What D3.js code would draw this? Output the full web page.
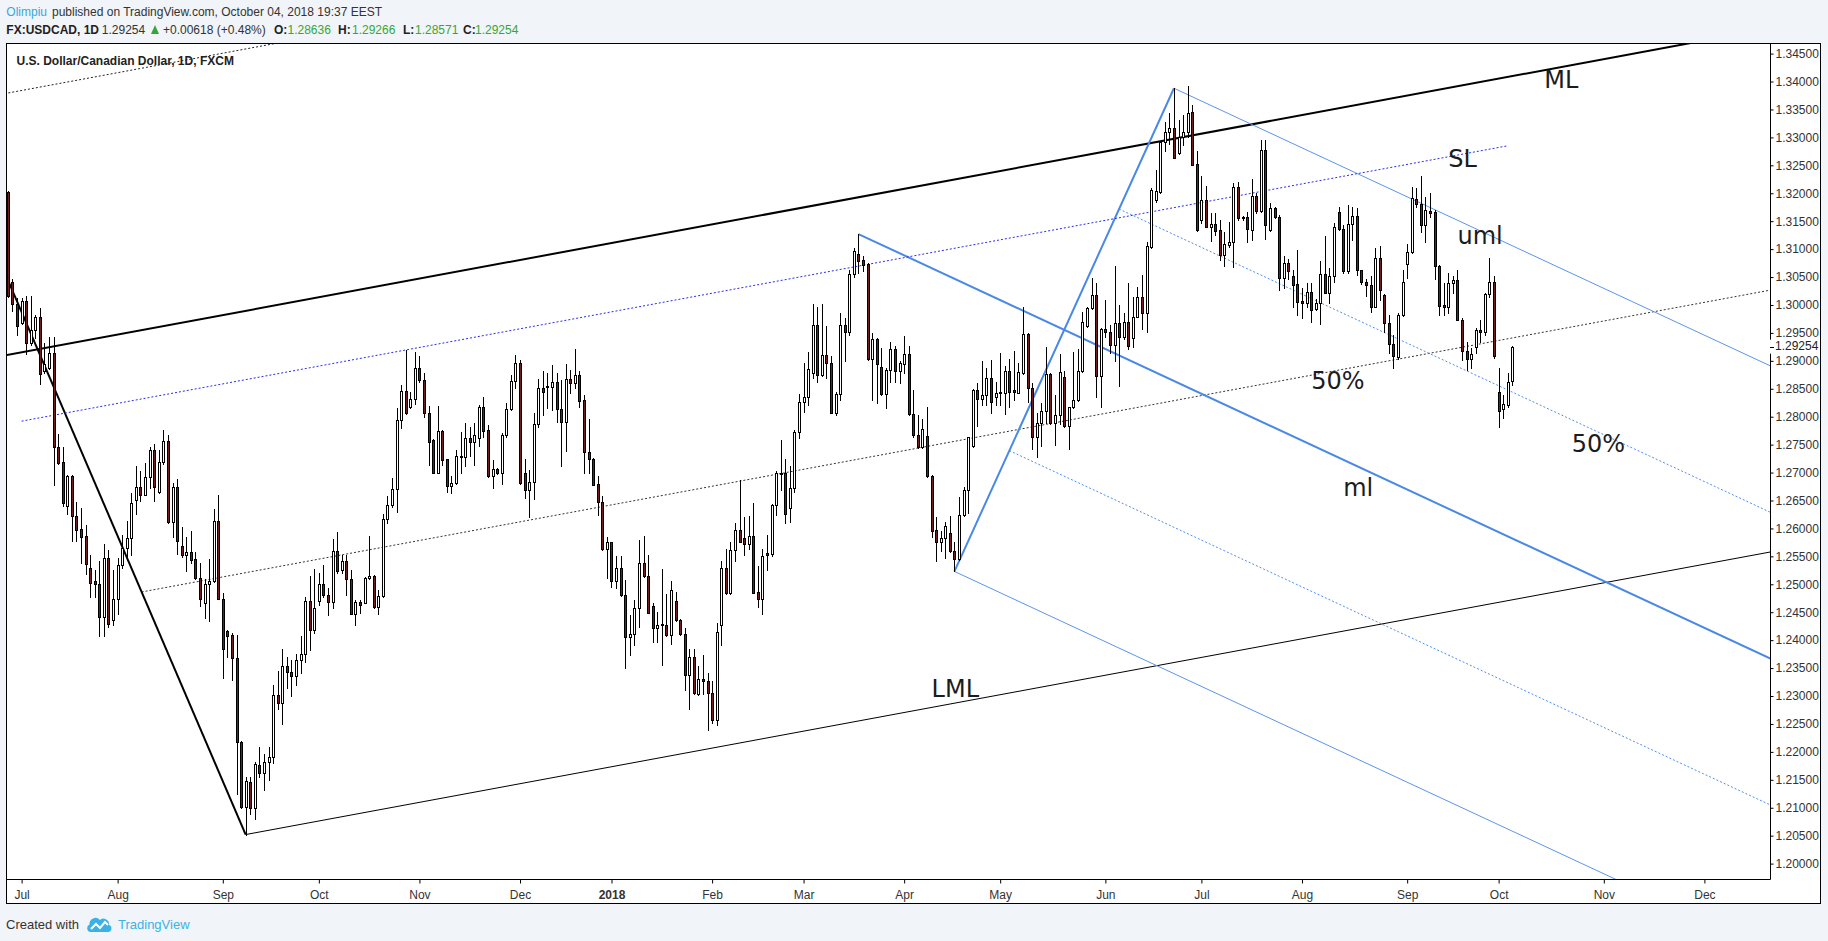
<!DOCTYPE html>
<html>
<head>
<meta charset="utf-8">
<script src="https://d3js.org/d3.v7.min.js"></script>
<style>
  html, body { margin: 0; padding: 0; background: #f1f4f8; }
  svg { display: block; }
</style>
</head>
<body>
<script>
// daily candles, FXCM USDCAD: date, open, high, low, close
var candles = [
  ["2017-06-28",1.3202,1.3204,1.3014,1.3016],["2017-06-29",1.3041,1.3047,1.2989,1.3001],["2017-06-30",1.3002,1.3012,1.2947,1.2963],
  ["2017-07-03",1.2968,1.3012,1.2966,1.3007],["2017-07-04",1.3007,1.3016,1.2913,1.2932],["2017-07-05",1.2932,1.3016,1.2928,1.2956],
  ["2017-07-06",1.2956,1.2982,1.2940,1.2978],["2017-07-07",1.2978,1.2995,1.2859,1.2876],["2017-07-10",1.2881,1.2932,1.2878,1.2894],
  ["2017-07-11",1.2888,1.2943,1.2886,1.2914],["2017-07-12",1.2914,1.2943,1.2678,1.2745],["2017-07-13",1.2746,1.2769,1.2716,1.2718],
  ["2017-07-14",1.2719,1.2745,1.2641,1.2645],["2017-07-17",1.2641,1.2696,1.2626,1.2694],["2017-07-18",1.2694,1.2696,1.2578,1.2622],
  ["2017-07-19",1.2622,1.2648,1.2578,1.2598],["2017-07-20",1.2599,1.2637,1.2538,1.2585],["2017-07-21",1.2586,1.2607,1.2519,1.2536],
  ["2017-07-24",1.2530,1.2553,1.2478,1.2503],["2017-07-25",1.2505,1.2526,1.2477,1.2500],["2017-07-26",1.2501,1.2542,1.2408,1.2441],
  ["2017-07-27",1.2441,1.2572,1.2408,1.2547],["2017-07-28",1.2547,1.2561,1.2423,1.2429],["2017-07-31",1.2436,1.2525,1.2427,1.2473],
  ["2017-08-01",1.2473,1.2547,1.2446,1.2534],["2017-08-02",1.2534,1.2588,1.2529,1.2565],["2017-08-03",1.2565,1.2614,1.2544,1.2582],
  ["2017-08-04",1.2582,1.2664,1.2553,1.2645],["2017-08-07",1.2650,1.2712,1.2626,1.2675],["2017-08-08",1.2675,1.2702,1.2649,1.2660],
  ["2017-08-09",1.2660,1.2718,1.2659,1.2692],["2017-08-10",1.2692,1.2745,1.2672,1.2741],["2017-08-11",1.2741,1.2752,1.2649,1.2675],
  ["2017-08-14",1.2666,1.2741,1.2664,1.2719],["2017-08-15",1.2719,1.2777,1.2715,1.2757],["2017-08-16",1.2757,1.2767,1.2610,1.2612],
  ["2017-08-17",1.2612,1.2681,1.2584,1.2675],["2017-08-18",1.2675,1.2689,1.2555,1.2578],["2017-08-21",1.2569,1.2603,1.2549,1.2552],
  ["2017-08-22",1.2552,1.2584,1.2523,1.2557],["2017-08-23",1.2557,1.2595,1.2538,1.2544],["2017-08-24",1.2546,1.2557,1.2509,1.2511],
  ["2017-08-25",1.2511,1.2538,1.2461,1.2474],["2017-08-28",1.2467,1.2510,1.2439,1.2501],["2017-08-29",1.2501,1.2546,1.2435,1.2506],
  ["2017-08-30",1.2506,1.2634,1.2504,1.2614],["2017-08-31",1.2614,1.2659,1.2473,1.2474],["2017-09-01",1.2474,1.2484,1.2333,1.2385],
  ["2017-09-04",1.2417,1.2419,1.2370,1.2408],["2017-09-05",1.2409,1.2412,1.2329,1.2368],["2017-09-06",1.2368,1.2409,1.2125,1.2217],
  ["2017-09-07",1.2217,1.2219,1.2100,1.2102],["2017-09-08",1.2102,1.2155,1.2052,1.2148],["2017-09-11",1.2146,1.2155,1.2088,1.2100],
  ["2017-09-12",1.2100,1.2182,1.2079,1.2178],["2017-09-13",1.2177,1.2209,1.2155,1.2163],["2017-09-14",1.2163,1.2196,1.2132,1.2181],
  ["2017-09-15",1.2181,1.2208,1.2150,1.2190],["2017-09-18",1.2190,1.2320,1.2180,1.2301],["2017-09-19",1.2301,1.2345,1.2276,1.2287],
  ["2017-09-20",1.2287,1.2384,1.2250,1.2353],["2017-09-21",1.2353,1.2370,1.2315,1.2343],["2017-09-22",1.2343,1.2365,1.2300,1.2335],
  ["2017-09-25",1.2335,1.2375,1.2320,1.2365],["2017-09-26",1.2365,1.2408,1.2342,1.2375],["2017-09-27",1.2375,1.2478,1.2360,1.2470],
  ["2017-09-28",1.2470,1.2515,1.2383,1.2418],["2017-09-29",1.2418,1.2528,1.2412,1.2457],["2017-10-02",1.2470,1.2520,1.2463,1.2501],
  ["2017-10-03",1.2501,1.2535,1.2478,1.2481],["2017-10-04",1.2481,1.2493,1.2445,1.2468],["2017-10-05",1.2468,1.2581,1.2457,1.2560],
  ["2017-10-06",1.2560,1.2593,1.2520,1.2523],["2017-10-09",1.2525,1.2553,1.2520,1.2541],["2017-10-10",1.2541,1.2553,1.2481,1.2509],
  ["2017-10-11",1.2509,1.2526,1.2446,1.2447],["2017-10-12",1.2447,1.2472,1.2428,1.2468],["2017-10-13",1.2468,1.2472,1.2448,1.2463],
  ["2017-10-16",1.2466,1.2513,1.2466,1.2511],["2017-10-17",1.2511,1.2587,1.2510,1.2515],["2017-10-18",1.2515,1.2516,1.2457,1.2460],
  ["2017-10-19",1.2460,1.2490,1.2447,1.2479],["2017-10-20",1.2479,1.2626,1.2478,1.2616],["2017-10-23",1.2616,1.2658,1.2610,1.2642],
  ["2017-10-24",1.2642,1.2690,1.2639,1.2670],["2017-10-25",1.2670,1.2815,1.2630,1.2794],["2017-10-26",1.2794,1.2857,1.2779,1.2846],
  ["2017-10-27",1.2846,1.2920,1.2805,1.2806],["2017-10-30",1.2817,1.2845,1.2815,1.2831],["2017-10-31",1.2831,1.2915,1.2823,1.2887],
  ["2017-11-01",1.2887,1.2909,1.2863,1.2865],["2017-11-02",1.2865,1.2878,1.2799,1.2807],["2017-11-03",1.2807,1.2819,1.2714,1.2755],
  ["2017-11-06",1.2758,1.2760,1.2699,1.2700],["2017-11-07",1.2700,1.2819,1.2699,1.2775],["2017-11-08",1.2775,1.2776,1.2714,1.2723],
  ["2017-11-09",1.2724,1.2725,1.2666,1.2676],["2017-11-10",1.2676,1.2694,1.2664,1.2681],["2017-11-13",1.2682,1.2741,1.2680,1.2730],
  ["2017-11-14",1.2730,1.2773,1.2699,1.2727],["2017-11-15",1.2727,1.2788,1.2711,1.2761],["2017-11-16",1.2761,1.2781,1.2729,1.2754],
  ["2017-11-17",1.2754,1.2788,1.2714,1.2767],["2017-11-20",1.2761,1.2821,1.2747,1.2818],["2017-11-21",1.2818,1.2836,1.2763,1.2775],
  ["2017-11-22",1.2776,1.2786,1.2692,1.2693],["2017-11-23",1.2693,1.2723,1.2672,1.2706],["2017-11-24",1.2706,1.2708,1.2698,1.2700],
  ["2017-11-27",1.2700,1.2770,1.2680,1.2767],["2017-11-28",1.2767,1.2824,1.2764,1.2813],["2017-11-29",1.2813,1.2875,1.2812,1.2864],
  ["2017-11-30",1.2864,1.2911,1.2851,1.2896],["2017-12-01",1.2896,1.2902,1.2680,1.2681],["2017-12-04",1.2699,1.2724,1.2654,1.2668],
  ["2017-12-05",1.2668,1.2704,1.2621,1.2683],["2017-12-06",1.2683,1.2807,1.2652,1.2787],["2017-12-07",1.2787,1.2867,1.2782,1.2851],
  ["2017-12-08",1.2851,1.2881,1.2803,1.2845],["2017-12-11",1.2853,1.2878,1.2815,1.2855],["2017-12-12",1.2854,1.2893,1.2812,1.2862],
  ["2017-12-13",1.2862,1.2878,1.2791,1.2813],["2017-12-14",1.2813,1.2866,1.2712,1.2791],["2017-12-15",1.2791,1.2894,1.2738,1.2867],
  ["2017-12-18",1.2867,1.2883,1.2842,1.2860],["2017-12-19",1.2860,1.2921,1.2851,1.2875],["2017-12-20",1.2875,1.2881,1.2818,1.2829],
  ["2017-12-21",1.2830,1.2839,1.2699,1.2736],["2017-12-22",1.2737,1.2795,1.2699,1.2724],["2017-12-26",1.2725,1.2726,1.2677,1.2678],
  ["2017-12-27",1.2679,1.2694,1.2624,1.2648],["2017-12-28",1.2648,1.2658,1.2562,1.2563],["2017-12-29",1.2563,1.2584,1.2511,1.2575],
  ["2018-01-02",1.2575,1.2575,1.2496,1.2505],["2018-01-03",1.2505,1.2550,1.2493,1.2530],["2018-01-04",1.2530,1.2551,1.2479,1.2481],
  ["2018-01-05",1.2481,1.2508,1.2350,1.2405],["2018-01-08",1.2406,1.2445,1.2374,1.2411],["2018-01-09",1.2411,1.2472,1.2391,1.2457],
  ["2018-01-10",1.2457,1.2579,1.2423,1.2539],["2018-01-11",1.2539,1.2587,1.2513,1.2514],["2018-01-12",1.2514,1.2553,1.2448,1.2449],
  ["2018-01-15",1.2461,1.2466,1.2397,1.2421],["2018-01-16",1.2421,1.2451,1.2397,1.2428],["2018-01-17",1.2429,1.2527,1.2356,1.2427],
  ["2018-01-18",1.2428,1.2483,1.2408,1.2409],["2018-01-19",1.2409,1.2505,1.2393,1.2490],["2018-01-22",1.2470,1.2487,1.2434,1.2436],
  ["2018-01-23",1.2436,1.2437,1.2409,1.2411],["2018-01-24",1.2411,1.2421,1.2311,1.2338],["2018-01-25",1.2338,1.2385,1.2276,1.2369],
  ["2018-01-26",1.2369,1.2385,1.2304,1.2306],["2018-01-29",1.2304,1.2354,1.2302,1.2330],["2018-01-30",1.2330,1.2374,1.2304,1.2326],
  ["2018-01-31",1.2326,1.2341,1.2240,1.2305],["2018-02-01",1.2305,1.2326,1.2251,1.2257],["2018-02-02",1.2257,1.2430,1.2249,1.2414],
  ["2018-02-05",1.2427,1.2541,1.2391,1.2530],["2018-02-06",1.2530,1.2563,1.2483,1.2484],["2018-02-07",1.2484,1.2575,1.2483,1.2562],
  ["2018-02-08",1.2562,1.2609,1.2542,1.2597],["2018-02-09",1.2597,1.2687,1.2575,1.2576],["2018-02-12",1.2582,1.2621,1.2553,1.2572],
  ["2018-02-13",1.2572,1.2622,1.2563,1.2587],["2018-02-14",1.2587,1.2645,1.2484,1.2485],["2018-02-15",1.2487,1.2533,1.2460,1.2473],
  ["2018-02-16",1.2473,1.2563,1.2447,1.2551],["2018-02-19",1.2556,1.2588,1.2526,1.2553],["2018-02-20",1.2554,1.2644,1.2550,1.2642],
  ["2018-02-21",1.2642,1.2702,1.2624,1.2699],["2018-02-22",1.2699,1.2758,1.2669,1.2698],["2018-02-23",1.2700,1.2724,1.2610,1.2626],
  ["2018-02-26",1.2636,1.2711,1.2612,1.2672],["2018-02-27",1.2672,1.2776,1.2666,1.2772],["2018-02-28",1.2772,1.2840,1.2761,1.2827],
  ["2018-03-01",1.2827,1.2896,1.2809,1.2835],["2018-03-02",1.2835,1.2915,1.2821,1.2885],["2018-03-05",1.2878,1.3002,1.2869,1.2965],
  ["2018-03-06",1.2965,1.2996,1.2863,1.2874],["2018-03-07",1.2874,1.3002,1.2873,1.2911],["2018-03-08",1.2911,1.2962,1.2869,1.2896],
  ["2018-03-09",1.2896,1.2909,1.2806,1.2807],["2018-03-12",1.2807,1.2845,1.2803,1.2840],["2018-03-13",1.2840,1.2985,1.2830,1.2964],
  ["2018-03-14",1.2964,1.2976,1.2899,1.2952],["2018-03-15",1.2952,1.3063,1.2946,1.3056],["2018-03-16",1.3056,1.3102,1.3050,1.3097],
  ["2018-03-19",1.3091,1.3127,1.3057,1.3079],["2018-03-20",1.3081,1.3087,1.3060,1.3072],["2018-03-21",1.3073,1.3076,1.2902,1.2903],
  ["2018-03-22",1.2903,1.2949,1.2830,1.2939],["2018-03-23",1.2939,1.2940,1.2824,1.2894],["2018-03-26",1.2889,1.2923,1.2839,1.2841],
  ["2018-03-27",1.2841,1.2887,1.2815,1.2884],["2018-03-28",1.2883,1.2933,1.2863,1.2921],["2018-03-29",1.2921,1.2926,1.2863,1.2881],
  ["2018-03-30",1.2881,1.2899,1.2861,1.2896],["2018-04-02",1.2894,1.2945,1.2878,1.2912],["2018-04-03",1.2912,1.2926,1.2803,1.2804],
  ["2018-04-04",1.2804,1.2848,1.2764,1.2767],["2018-04-05",1.2767,1.2803,1.2744,1.2745],["2018-04-06",1.2745,1.2795,1.2744,1.2778],
  ["2018-04-09",1.2766,1.2817,1.2692,1.2693],["2018-04-10",1.2694,1.2695,1.2585,1.2596],["2018-04-11",1.2597,1.2620,1.2541,1.2575],
  ["2018-04-12",1.2575,1.2596,1.2559,1.2582],["2018-04-13",1.2582,1.2612,1.2547,1.2604],["2018-04-16",1.2591,1.2622,1.2557,1.2559],
  ["2018-04-17",1.2560,1.2576,1.2523,1.2545],["2018-04-18",1.2545,1.2656,1.2544,1.2624],["2018-04-19",1.2624,1.2674,1.2622,1.2669],
  ["2018-04-20",1.2669,1.2764,1.2628,1.2763],["2018-04-23",1.2747,1.2849,1.2745,1.2848],["2018-04-24",1.2848,1.2860,1.2784,1.2831],
  ["2018-04-25",1.2831,1.2899,1.2821,1.2839],["2018-04-26",1.2839,1.2887,1.2821,1.2869],["2018-04-27",1.2869,1.2902,1.2806,1.2826],
  ["2018-04-30",1.2835,1.2863,1.2821,1.2842],["2018-05-01",1.2842,1.2914,1.2821,1.2844],["2018-05-02",1.2843,1.2890,1.2805,1.2881],
  ["2018-05-03",1.2881,1.2903,1.2818,1.2845],["2018-05-04",1.2848,1.2917,1.2830,1.2845],["2018-05-07",1.2843,1.2897,1.2842,1.2880],
  ["2018-05-08",1.2879,1.2997,1.2877,1.2948],["2018-05-09",1.2948,1.2950,1.2827,1.2851],["2018-05-10",1.2851,1.2861,1.2742,1.2764],
  ["2018-05-11",1.2764,1.2806,1.2727,1.2789],["2018-05-14",1.2789,1.2824,1.2748,1.2811],["2018-05-15",1.2811,1.2925,1.2788,1.2877],
  ["2018-05-16",1.2877,1.2878,1.2787,1.2788],["2018-05-17",1.2788,1.2839,1.2749,1.2803],["2018-05-18",1.2803,1.2912,1.2787,1.2880],
  ["2018-05-21",1.2871,1.2881,1.2781,1.2783],["2018-05-22",1.2783,1.2818,1.2742,1.2817],["2018-05-23",1.2817,1.2915,1.2815,1.2830],
  ["2018-05-24",1.2830,1.2921,1.2829,1.2881],["2018-05-25",1.2881,1.2988,1.2880,1.2970],["2018-05-28",1.2962,1.2997,1.2961,1.2994],
  ["2018-05-29",1.2994,1.3048,1.2992,1.3018],["2018-05-30",1.3018,1.3040,1.2836,1.2872],["2018-05-31",1.2872,1.2958,1.2818,1.2957],
  ["2018-06-01",1.2957,1.3009,1.2943,1.2952],["2018-06-04",1.2951,1.2964,1.2914,1.2928],["2018-06-05",1.2928,1.3070,1.2900,1.2967],
  ["2018-06-06",1.2967,1.3000,1.2855,1.2943],["2018-06-07",1.2943,1.2985,1.2939,1.2970],["2018-06-08",1.2970,1.3040,1.2922,1.2927],
  ["2018-06-11",1.2940,1.3015,1.2925,1.2979],["2018-06-12",1.2979,1.3033,1.2978,1.3014],["2018-06-13",1.3014,1.3054,1.2957,1.2986],
  ["2018-06-14",1.2986,1.3113,1.2951,1.3106],["2018-06-15",1.3104,1.3209,1.3102,1.3206],["2018-06-18",1.3188,1.3242,1.3185,1.3204],
  ["2018-06-19",1.3203,1.3293,1.3201,1.3292],["2018-06-20",1.3291,1.3328,1.3275,1.3310],["2018-06-21",1.3309,1.3343,1.3289,1.3316],
  ["2018-06-22",1.3316,1.3388,1.3264,1.3264],["2018-06-25",1.3272,1.3331,1.3270,1.3301],["2018-06-26",1.3300,1.3340,1.3286,1.3310],
  ["2018-06-27",1.3310,1.3392,1.3301,1.3344],["2018-06-28",1.3345,1.3358,1.3250,1.3251],["2018-06-29",1.3252,1.3275,1.3133,1.3134],
  ["2018-07-02",1.3153,1.3230,1.3146,1.3188],["2018-07-03",1.3188,1.3213,1.3139,1.3140],["2018-07-04",1.3140,1.3164,1.3115,1.3145],
  ["2018-07-05",1.3145,1.3164,1.3125,1.3133],["2018-07-06",1.3134,1.3153,1.3081,1.3090],["2018-07-09",1.3090,1.3130,1.3070,1.3109],
  ["2018-07-10",1.3107,1.3149,1.3104,1.3113],["2018-07-11",1.3113,1.3219,1.3068,1.3212],["2018-07-12",1.3212,1.3221,1.3153,1.3156],
  ["2018-07-13",1.3158,1.3159,1.3153,1.3155],["2018-07-16",1.3158,1.3167,1.3113,1.3136],["2018-07-17",1.3134,1.3225,1.3116,1.3195],
  ["2018-07-18",1.3195,1.3201,1.3165,1.3169],["2018-07-19",1.3169,1.3295,1.3167,1.3278],["2018-07-20",1.3278,1.3295,1.3119,1.3143],
  ["2018-07-23",1.3134,1.3182,1.3133,1.3173],["2018-07-24",1.3173,1.3176,1.3155,1.3157],["2018-07-25",1.3158,1.3161,1.3027,1.3048],
  ["2018-07-26",1.3048,1.3087,1.3030,1.3075],["2018-07-27",1.3075,1.3082,1.3046,1.3060],["2018-07-30",1.3052,1.3062,1.2997,1.3036],
  ["2018-07-31",1.3038,1.3099,1.2982,1.3006],["2018-08-01",1.3007,1.3030,1.2977,1.3003],["2018-08-02",1.3003,1.3040,1.2997,1.3024],
  ["2018-08-03",1.3024,1.3040,1.2970,1.2991],["2018-08-06",1.2992,1.3010,1.2991,1.3003],["2018-08-07",1.3003,1.3078,1.2966,1.3055],
  ["2018-08-08",1.3055,1.3124,1.3021,1.3022],["2018-08-09",1.3022,1.3066,1.3004,1.3052],["2018-08-10",1.3052,1.3147,1.3042,1.3139],
  ["2018-08-13",1.3167,1.3176,1.3134,1.3136],["2018-08-14",1.3136,1.3143,1.3058,1.3060],["2018-08-15",1.3060,1.3179,1.3058,1.3145],
  ["2018-08-16",1.3145,1.3176,1.3116,1.3159],["2018-08-17",1.3159,1.3173,1.3054,1.3062],["2018-08-20",1.3062,1.3063,1.3038,1.3042],
  ["2018-08-21",1.3042,1.3046,1.3016,1.3035],["2018-08-22",1.3036,1.3051,1.2988,1.2997],["2018-08-23",1.2997,1.3102,1.2996,1.3084],
  ["2018-08-24",1.3084,1.3106,1.3009,1.3027],["2018-08-27",1.3017,1.3020,1.2952,1.2967],["2018-08-28",1.2967,1.2982,1.2914,1.2931],
  ["2018-08-29",1.2931,1.2946,1.2888,1.2908],["2018-08-30",1.2906,1.2985,1.2903,1.2982],["2018-08-31",1.2982,1.3063,1.2981,1.3042],
  ["2018-09-03",1.3073,1.3110,1.3048,1.3094],["2018-09-04",1.3094,1.3212,1.3093,1.3191],["2018-09-05",1.3189,1.3209,1.3176,1.3181],
  ["2018-09-06",1.3181,1.3231,1.3131,1.3143],["2018-09-07",1.3143,1.3194,1.3113,1.3170],["2018-09-10",1.3168,1.3201,1.3158,1.3165],
  ["2018-09-11",1.3167,1.3170,1.3046,1.3069],["2018-09-12",1.3070,1.3071,1.2982,1.2998],["2018-09-13",1.3000,1.3039,1.2982,1.2997],
  ["2018-09-14",1.2997,1.3057,1.2985,1.3040],["2018-09-17",1.3039,1.3051,1.3021,1.3045],["2018-09-18",1.3045,1.3063,1.2973,1.2974],
  ["2018-09-19",1.2974,1.2976,1.2902,1.2917],["2018-09-20",1.2918,1.2934,1.2884,1.2903],["2018-09-21",1.2903,1.2923,1.2887,1.2912],
  ["2018-09-24",1.2925,1.2958,1.2914,1.2955],["2018-09-25",1.2955,1.2973,1.2934,1.2952],["2018-09-26",1.2952,1.3021,1.2946,1.3019],
  ["2018-09-27",1.3019,1.3084,1.3015,1.3042],["2018-09-28",1.3042,1.3051,1.2905,1.2908],["2018-10-01",1.2845,1.2887,1.2782,1.2811],
  ["2018-10-02",1.2813,1.2839,1.2797,1.2822],["2018-10-03",1.2821,1.2878,1.2818,1.2863],["2018-10-04",1.28636,1.29266,1.28571,1.29254]
];

// days with no bar in the feed
var skippedDays = ["2017-12-25", "2018-01-01"];

// price scale labels
var priceTicks = [1.200, 1.205, 1.210, 1.215, 1.220, 1.225, 1.230, 1.235, 1.240, 1.245,
                  1.250, 1.255, 1.260, 1.265, 1.270, 1.275, 1.280, 1.285, 1.290, 1.295,
                  1.300, 1.305, 1.310, 1.315, 1.320, 1.325, 1.330, 1.335, 1.340, 1.345];
var lastPrice = 1.29254;

// time scale labels (first bar of each month)
var monthTickDays = ["2017-07-03","2017-08-01","2017-09-01","2017-10-02","2017-11-01","2017-12-01",
                     "2018-01-02","2018-02-01","2018-03-01","2018-04-02","2018-05-01","2018-06-01",
                     "2018-07-02","2018-08-01","2018-09-03","2018-10-01","2018-11-01","2018-12-03"];
var monthLabels = ["Jul","Aug","Sep","Oct","Nov","Dec","2018","Feb","Mar","Apr","May","Jun",
                   "Jul","Aug","Sep","Oct","Nov","Dec"];

// pitchfork pivots: handle, pivot 2, pivot 3
var blackFork = [["2016-05-03", 1.2454], ["2017-05-04", 1.3789], ["2017-09-08", 1.2052]];
var blueFork  = [["2018-03-19", 1.3127], ["2018-04-17", 1.2523], ["2018-06-22", 1.3388]];
// sliding parallel
var slLine = [["2017-07-03", 1.2792], ["2018-10-03", 1.3285]];

// text drawn on the chart: label, date, price (baseline)
var annotations = [
  ["ML",  "2018-10-15", 1.3389],
  ["SL",  "2018-09-14", 1.3247],
  ["uml", "2018-09-18", 1.3109],
  ["50%", "2018-08-03", 1.2849],
  ["50%", "2018-10-23", 1.2737],
  ["ml",  "2018-08-14", 1.2658],
  ["LML", "2018-04-10", 1.2298]
];

// ---------------------------------------------------------------
var W = 1828, H = 941;
var LEFT = 7, RIGHT = 1770, TOP = 44, BOTTOM = 879;
var UI_FONT = "'Liberation Sans', Arial, sans-serif";

// bar number counted in trading days from 2017-07-03
var REF = Date.UTC(2017, 6, 3);
function barIndex(s) {
  var t = Date.parse(s + "T00:00:00Z");
  var days = Math.round((t - REF) / 864e5);
  var w = Math.floor(days / 7);
  var i = w * 5 + Math.min(days - w * 7, 5);
  skippedDays.forEach(function(h) { if (t > Date.parse(h + "T00:00:00Z")) i -= 1; });
  return i;
}

var x = d3.scaleLinear().domain([0, 368]).range([21.6, 1704.4]);
var y = d3.scaleLinear().domain([1.2, 1.345]).range([863.6, 53.6]);

var svg = d3.select("body").append("svg").attr("width", W).attr("height", H);
svg.append("rect").attr("width", W).attr("height", H).attr("fill", "#f1f4f8");

// chart frame
svg.append("rect")
  .attr("x", 6.5).attr("y", 43.5).attr("width", 1814).attr("height", 860)
  .attr("fill", "#fff").attr("stroke", "#000");

svg.append("defs").append("clipPath").attr("id", "plot")
  .append("rect").attr("x", LEFT).attr("y", TOP).attr("width", RIGHT - LEFT).attr("height", BOTTOM - TOP);

var plot = svg.append("g").attr("clip-path", "url(#plot)");

// ---- pitchfork lines ----
var END = 400;
var line = d3.line().x(function(d) { return x(d[0]); }).y(function(d) { return y(d[1]); });

function fork(pts) {
  var p = pts.map(function(d) { return [barIndex(d[0]), d[1]]; });
  var m = [(p[1][0] + p[2][0]) / 2, (p[1][1] + p[2][1]) / 2];
  var slope = (m[1] - p[0][1]) / (m[0] - p[0][0]);
  function ray(a) { return [a, [END, a[1] + slope * (END - a[0])]]; }
  function along(t) { return [p[1][0] + (p[2][0] - p[1][0]) * t, p[1][1] + (p[2][1] - p[1][1]) * t]; }
  return {
    base: [p[1], p[2]],
    median: ray(p[0]),
    par2: ray(p[1]),
    par3: ray(p[2]),
    half2: ray(along(0.25)),
    half3: ray(along(0.75))
  };
}

function drawLine(pts, color, width, dash) {
  var l = plot.append("path").attr("d", line(pts)).attr("fill", "none")
    .attr("stroke", color).attr("stroke-width", width);
  if (dash) l.attr("stroke-dasharray", dash);
  return l;
}

var bk = fork(blackFork);
drawLine(bk.half2, "#222", 1, "2,2");
drawLine(bk.half3, "#333", 1, "2,2");
drawLine(bk.par2, "#000", 1);
drawLine(bk.par3, "#000", 1);
drawLine(bk.base, "#000", 2);
drawLine(bk.median, "#000", 2);

var bl = fork(blueFork);
drawLine(bl.half2, "#4f8ef0", 1, "2,2");
drawLine(bl.half3, "#4f8ef0", 1, "2,2");
drawLine(bl.par2, "#5b95ee", 1);
drawLine(bl.par3, "#5b95ee", 1);
drawLine(bl.base, "#4a88e8", 2);
drawLine(bl.median, "#4a88e8", 2);

drawLine(slLine.map(function(d) { return [barIndex(d[0]), d[1]]; }), "#2b2bf0", 1, "2,2");

// ---- candles ----
var cg = plot.append("g").attr("shape-rendering", "crispEdges");
candles.forEach(function(d) {
  var px = Math.round(x(barIndex(d[0])));
  var o = d[1], h = d[2], l = d[3], c = d[4];
  cg.append("line")
    .attr("x1", px + 0.5).attr("x2", px + 0.5)
    .attr("y1", Math.round(y(h))).attr("y2", Math.round(y(l)) + 1)
    .attr("stroke", "#000");
  var top = Math.round(y(Math.max(o, c))), bot = Math.round(y(Math.min(o, c)));
  cg.append("rect")
    .attr("x", px - 0.5).attr("y", top + 0.5)
    .attr("width", 2).attr("height", Math.max(bot - top, 1))
    .attr("fill", c >= o ? "#fff" : "#6d1f1f").attr("stroke", "#000");
});

// ---- drawing labels ----
plot.selectAll("text.note").data(annotations).enter().append("text")
  .attr("class", "note")
  .attr("x", function(d) { return x(barIndex(d[1])); })
  .attr("y", function(d) { return y(d[2]); })
  .attr("font-family", "'DejaVu Sans', Verdana, sans-serif")
  .attr("font-size", 24)
  .attr("fill", "#1c1c1c")
  .text(function(d) { return d[0]; });

// ---- axes ----
svg.append("line").attr("x1", RIGHT + 0.5).attr("x2", RIGHT + 0.5).attr("y1", 43.5).attr("y2", BOTTOM + 0.5).attr("stroke", "#000");
svg.append("line").attr("x1", 6.5).attr("x2", RIGHT + 0.5).attr("y1", BOTTOM + 0.5).attr("y2", BOTTOM + 0.5).attr("stroke", "#000");

var yAxis = svg.append("g").attr("transform", "translate(" + (RIGHT + 0.5) + ",0)")
  .call(d3.axisRight(y).tickValues(priceTicks).tickFormat(d3.format(".5f")).tickSize(3).tickPadding(2));
yAxis.select(".domain").remove();
yAxis.selectAll("text").attr("font-family", UI_FONT).attr("font-size", 12).attr("fill", "#333");
yAxis.selectAll("line").attr("stroke", "#000");

// last price label
var ly = y(lastPrice);
svg.append("rect").attr("x", RIGHT - 1).attr("y", ly - 7).attr("width", 50).attr("height", 14).attr("fill", "#fff");
svg.append("line").attr("x1", RIGHT).attr("x2", RIGHT + 4).attr("y1", Math.round(ly) + 0.5).attr("y2", Math.round(ly) + 0.5).attr("stroke", "#000");
svg.append("text").attr("x", RIGHT + 5).attr("y", ly).attr("dy", "0.32em")
  .attr("font-family", UI_FONT).attr("font-size", 12).attr("fill", "#222")
  .text(d3.format(".5f")(lastPrice));

var tickIdx = monthTickDays.map(barIndex);
var xAxis = svg.append("g").attr("transform", "translate(0," + (BOTTOM + 0.5) + ")")
  .call(d3.axisBottom(x).tickValues(tickIdx)
    .tickFormat(function(d, i) { return monthLabels[i]; }).tickSize(4).tickPadding(7));
xAxis.select(".domain").remove();
xAxis.selectAll("text").attr("font-family", UI_FONT).attr("font-size", 12).attr("fill", "#333")
  .attr("font-weight", function(d, i) { return monthLabels[i] === "2018" ? "bold" : null; });
xAxis.selectAll("line").attr("stroke", "#000");

// ---- title inside the chart ----
svg.append("text").attr("x", 16.5).attr("y", 65)
  .attr("font-family", UI_FONT).attr("font-size", 12).attr("font-weight", "bold").attr("fill", "#222")
  .text("U.S. Dollar/Canadian Dollar, 1D, FXCM");

// ---- header ----
var green = "#36a736";
function put(txt, px, py, color, bold) {
  svg.append("text").attr("x", px).attr("y", py)
    .attr("font-family", UI_FONT).attr("font-size", 12)
    .attr("font-weight", bold ? "bold" : null)
    .attr("fill", color).text(txt);
}
put("Olimpiu", 6.3, 16, "#38a7df");
put("published on TradingView.com, October 04, 2018 19:37 EEST", 52, 16, "#333");
put("FX:USDCAD, 1D", 6.3, 34, "#222", true);
put("1.29254", 101.8, 34, "#333");
svg.append("path").attr("d", "M151,34L159,34L155,25Z").attr("fill", green);
put("+0.00618 (+0.48%)", 163, 34, "#333");
put("O:", 274, 34, "#222", true);   put("1.28636", 287.5, 34, green);
put("H:", 338, 34, "#222", true);   put("1.29266", 352, 34, green);
put("L:", 403, 34, "#222", true);   put("1.28571", 415, 34, green);
put("C:", 463, 34, "#222", true);   put("1.29254", 475, 34, green);

// ---- footer ----
svg.append("text").attr("x", 6).attr("y", 928.5)
  .attr("font-family", UI_FONT).attr("font-size", 13).attr("fill", "#333").text("Created with");
var logo = svg.append("g").attr("transform", "translate(87,916)");
logo.append("path")
  .attr("d", "M3,16 A4,4 0 0 1 2.5,8.5 A6,6 0 0 1 13,4 A5.5,5.5 0 0 1 22,9 A3.6,3.6 0 0 1 21,16 Z")
  .attr("fill", "#3bb2e6");
logo.append("path").attr("d", "M4,13 L9,8 L13,12 L18,6 L21,9")
  .attr("fill", "none").attr("stroke", "#fff").attr("stroke-width", 2);
svg.append("text").attr("x", 118).attr("y", 928.5)
  .attr("font-family", UI_FONT).attr("font-size", 13).attr("fill", "#3bb2e6").text("TradingView");
</script>
</body>
</html>
